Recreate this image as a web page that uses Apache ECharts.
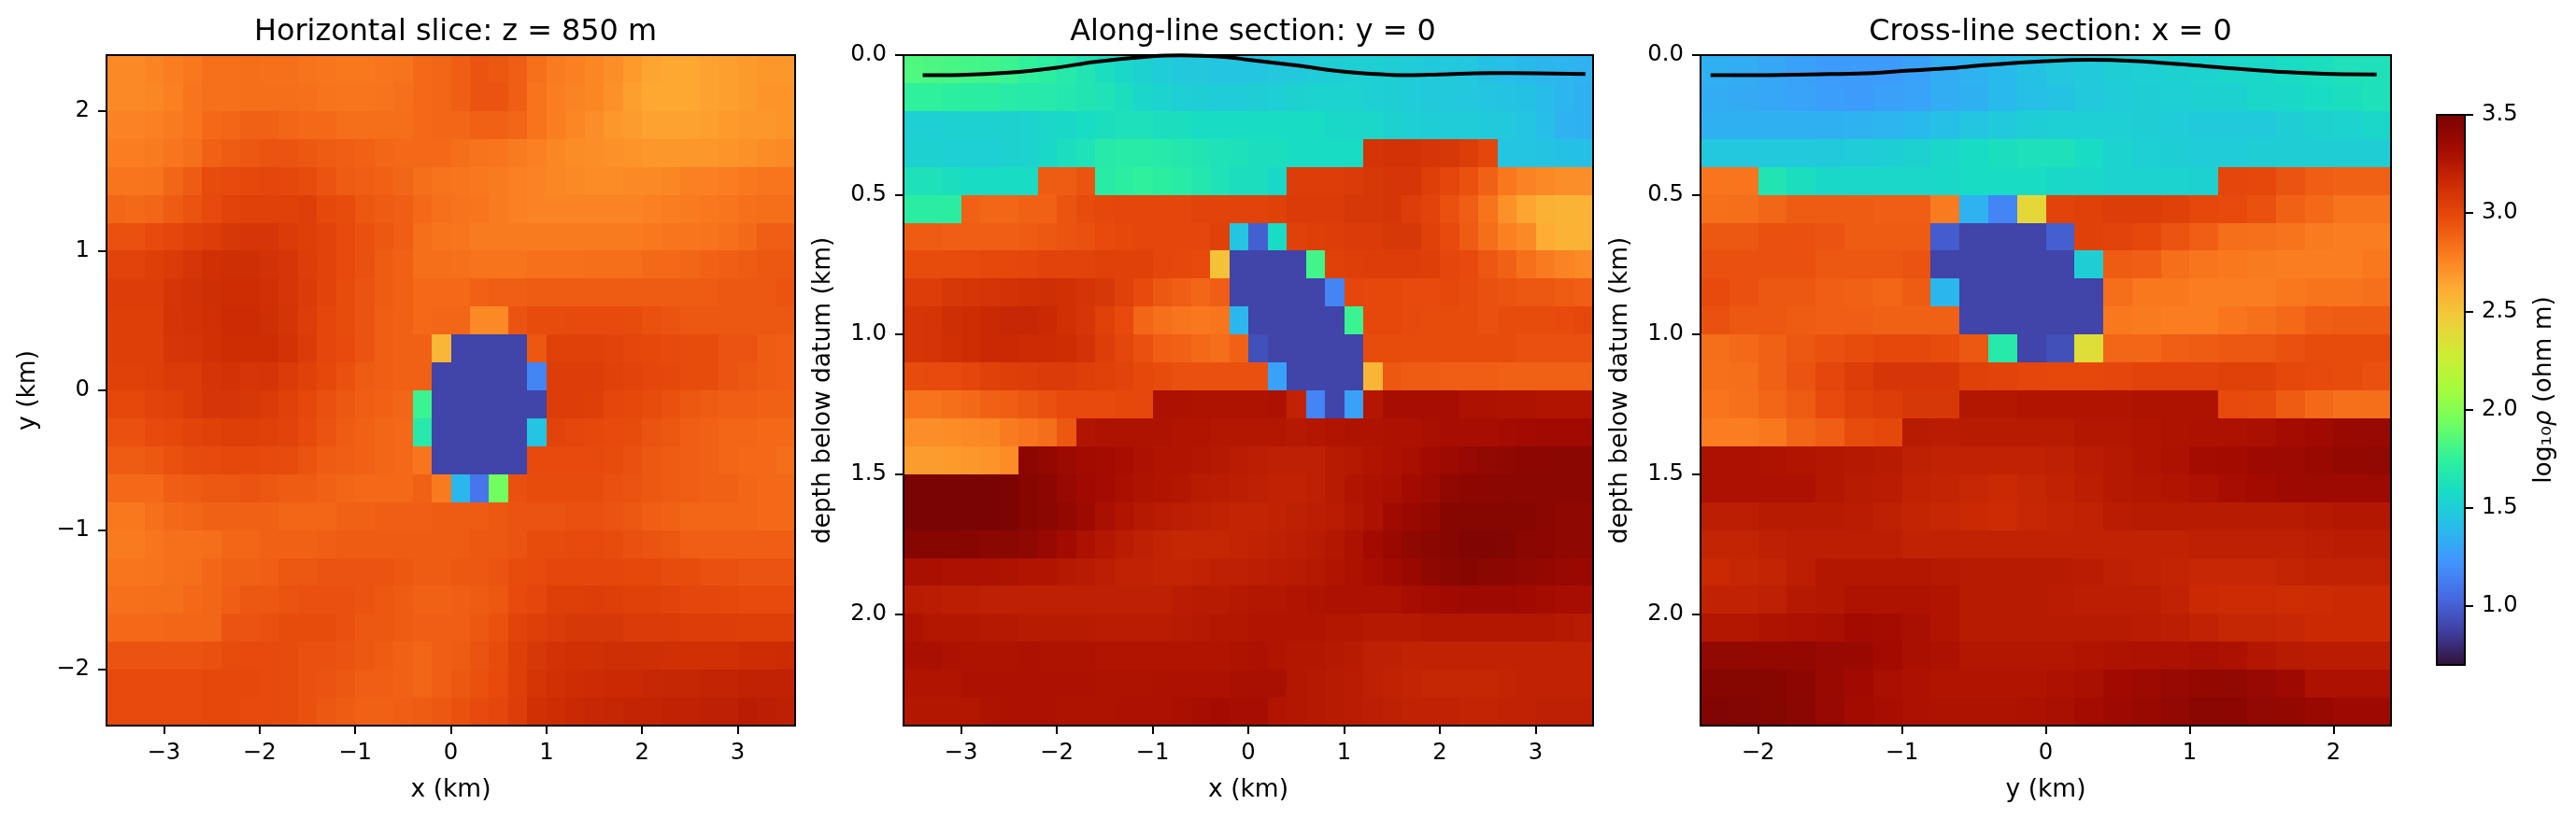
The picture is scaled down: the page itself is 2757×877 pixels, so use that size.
<!DOCTYPE html>
<html><head><meta charset="utf-8">
<script src="https://cdn.jsdelivr.net/npm/echarts@6/dist/echarts.min.js"></script>
<style>html,body{margin:0;padding:0;background:#fff}#c{width:2757px;height:877px}</style>
</head><body><div id="c"></div>
<script>
const titles = ['Horizontal slice: z = 850 m','Along-line section: y = 0','Cross-line section: x = 0'];
const xTicks = [-3,-2,-1,0,1,2,3];
const yTicks = [-2,-1,0,1,2];
const depthTicks = [0,0.5,1,1.5,2];
const cbTicks = [1,1.5,2,2.5,3,3.5];
const X_START = -3.6, Y_START = -2.4, DX = 0.2, DZ = 0.1;
// log10 resistivity, top row first
const sliceRows = [
[2.74,2.74,2.76,2.78,2.80,2.83,2.83,2.84,2.83,2.83,2.82,2.81,2.80,2.80,2.81,2.82,2.86,2.87,2.90,2.94,2.93,2.90,2.83,2.79,2.77,2.75,2.72,2.68,2.64,2.63,2.63,2.65,2.66,2.68,2.69,2.69],
[2.74,2.74,2.75,2.77,2.81,2.83,2.83,2.84,2.84,2.84,2.83,2.82,2.81,2.81,2.82,2.83,2.86,2.87,2.90,2.94,2.94,2.90,2.82,2.78,2.76,2.75,2.71,2.66,2.63,2.63,2.63,2.65,2.66,2.68,2.70,2.70],
[2.76,2.76,2.77,2.79,2.81,2.86,2.87,2.89,2.89,2.87,2.86,2.86,2.84,2.84,2.84,2.84,2.86,2.87,2.87,2.89,2.89,2.87,2.82,2.78,2.75,2.72,2.69,2.67,2.65,2.65,2.65,2.66,2.68,2.69,2.69,2.70],
[2.78,2.78,2.79,2.81,2.83,2.89,2.91,2.93,2.94,2.94,2.93,2.91,2.90,2.89,2.87,2.86,2.86,2.86,2.84,2.82,2.81,2.79,2.77,2.75,2.73,2.72,2.71,2.70,2.69,2.69,2.69,2.69,2.70,2.71,2.73,2.74],
[2.81,2.81,2.82,2.87,2.91,2.97,2.98,2.99,3.00,2.99,2.97,2.94,2.91,2.90,2.89,2.87,2.84,2.82,2.81,2.80,2.79,2.77,2.76,2.75,2.74,2.73,2.73,2.74,2.74,2.75,2.77,2.77,2.78,2.80,2.81,2.81],
[2.87,2.86,2.87,2.91,2.94,2.98,3.02,3.03,3.03,3.03,3.04,2.99,2.97,2.93,2.91,2.90,2.86,2.83,2.82,2.81,2.79,2.77,2.76,2.76,2.76,2.76,2.76,2.76,2.77,2.78,2.79,2.80,2.81,2.83,2.84,2.84],
[2.95,2.95,2.98,3.00,3.03,3.05,3.08,3.09,3.09,3.06,3.04,3.02,2.98,2.95,2.93,2.90,2.84,2.82,2.81,2.79,2.79,2.79,2.79,2.79,2.79,2.79,2.79,2.79,2.80,2.81,2.81,2.82,2.83,2.86,2.90,2.90],
[3.02,3.02,3.04,3.06,3.09,3.12,3.13,3.13,3.11,3.09,3.05,3.02,2.98,2.95,2.91,2.89,2.84,2.84,2.83,2.82,2.82,2.82,2.83,2.83,2.83,2.84,2.84,2.84,2.86,2.86,2.87,2.89,2.90,2.91,2.93,2.93],
[3.05,3.05,3.05,3.09,3.11,3.13,3.14,3.14,3.12,3.09,3.06,3.02,2.97,2.94,2.91,2.89,2.86,2.86,2.86,2.89,2.90,2.90,2.91,2.91,2.91,2.91,2.91,2.91,2.91,2.91,2.91,2.91,2.93,2.93,2.93,2.94],
[3.04,3.04,3.04,3.10,3.11,3.12,3.15,3.15,3.13,3.10,3.05,3.00,2.97,2.94,2.90,2.89,2.86,2.87,2.87,2.74,2.74,2.94,2.97,2.97,2.98,2.98,2.98,2.97,2.95,2.94,2.93,2.93,2.93,2.93,2.93,2.93],
[3.04,3.04,3.04,3.09,3.10,3.12,3.14,3.14,3.14,3.11,3.06,3.00,2.98,2.94,2.90,2.89,2.89,2.56,0.89,0.89,0.89,0.89,2.93,3.03,3.03,3.03,3.02,3.00,2.99,2.98,2.97,2.97,2.94,2.94,2.91,2.90],
[3.03,3.03,3.04,3.06,3.06,3.10,3.11,3.09,3.10,3.06,3.03,2.99,2.95,2.91,2.90,2.89,2.89,0.89,0.89,0.89,0.89,0.89,1.16,3.05,3.05,3.05,3.03,3.02,3.00,2.99,2.97,2.97,2.94,2.93,2.91,2.90],
[2.99,2.99,3.02,3.03,3.06,3.09,3.09,3.08,3.06,3.03,2.99,2.95,2.93,2.90,2.89,2.87,1.78,0.89,0.89,0.89,0.89,0.89,0.89,3.05,3.05,3.04,3.00,2.99,2.97,2.95,2.93,2.91,2.90,2.90,2.89,2.89],
[2.95,2.95,2.98,2.99,3.02,3.03,3.04,3.04,3.03,3.02,2.98,2.94,2.91,2.89,2.87,2.86,1.69,0.89,0.89,0.89,0.89,0.89,1.45,3.02,3.00,2.99,2.98,2.97,2.94,2.93,2.90,2.89,2.87,2.87,2.86,2.86],
[2.91,2.91,2.93,2.95,2.97,2.98,2.99,2.99,2.98,2.97,2.94,2.91,2.90,2.89,2.87,2.86,2.81,0.89,0.89,0.89,0.89,0.89,2.98,2.98,2.98,2.98,2.97,2.95,2.93,2.91,2.90,2.89,2.87,2.86,2.86,2.84],
[2.86,2.86,2.86,2.90,2.91,2.93,2.93,2.94,2.93,2.91,2.91,2.89,2.87,2.86,2.86,2.86,2.89,2.79,1.38,1.10,1.94,2.95,2.97,2.97,2.97,2.97,2.95,2.94,2.93,2.91,2.90,2.89,2.89,2.87,2.86,2.86],
[2.80,2.80,2.83,2.86,2.87,2.89,2.89,2.89,2.89,2.87,2.87,2.87,2.89,2.89,2.90,2.90,2.90,2.91,2.91,2.91,2.93,2.94,2.94,2.94,2.95,2.95,2.94,2.93,2.90,2.89,2.87,2.87,2.87,2.87,2.86,2.86],
[2.79,2.79,2.81,2.83,2.83,2.84,2.87,2.87,2.89,2.89,2.89,2.90,2.91,2.91,2.91,2.91,2.91,2.91,2.91,2.93,2.93,2.94,2.97,2.97,2.98,2.98,2.97,2.95,2.94,2.93,2.90,2.90,2.90,2.90,2.90,2.90],
[2.81,2.81,2.82,2.83,2.84,2.87,2.89,2.89,2.90,2.93,2.93,2.94,2.94,2.94,2.94,2.93,2.91,2.91,2.93,2.93,2.94,2.97,2.98,3.00,3.00,3.00,3.00,2.99,2.99,2.97,2.97,2.95,2.95,2.94,2.94,2.94],
[2.83,2.83,2.84,2.84,2.86,2.87,2.90,2.93,2.93,2.94,2.95,2.95,2.95,2.94,2.93,2.91,2.89,2.89,2.90,2.91,2.93,2.98,3.00,3.04,3.04,3.05,3.04,3.03,3.03,3.02,3.00,3.00,2.99,2.98,2.98,2.98],
[2.86,2.86,2.86,2.87,2.87,2.87,2.94,2.94,2.95,2.97,2.97,2.97,2.95,2.93,2.93,2.91,2.90,2.90,2.90,2.93,2.95,3.02,3.04,3.06,3.08,3.08,3.08,3.06,3.06,3.06,3.05,3.05,3.05,3.04,3.04,3.04],
[2.94,2.94,2.94,2.94,2.94,2.95,2.97,2.98,2.98,2.97,2.95,2.95,2.94,2.93,2.91,2.89,2.87,2.90,2.91,2.94,2.97,3.04,3.08,3.11,3.12,3.12,3.13,3.13,3.13,3.12,3.12,3.12,3.12,3.14,3.14,3.15],
[2.98,2.98,2.98,2.98,2.98,2.99,2.99,2.99,2.98,2.97,2.95,2.94,2.93,2.90,2.90,2.89,2.87,2.90,2.93,2.95,2.98,3.04,3.10,3.12,3.14,3.15,3.16,3.16,3.17,3.18,3.18,3.19,3.19,3.20,3.20,3.20],
[2.98,2.98,2.98,2.98,2.98,2.99,2.99,2.98,2.98,2.97,2.95,2.93,2.91,2.89,2.89,2.90,2.91,2.93,2.95,2.98,3.00,3.05,3.12,3.14,3.16,3.17,3.18,3.19,3.19,3.20,3.20,3.21,3.21,3.23,3.22,3.21]
];
const alongRows = [
[1.84,1.83,1.82,1.81,1.80,1.78,1.75,1.73,1.69,1.65,1.60,1.55,1.52,1.49,1.47,1.46,1.45,1.45,1.45,1.46,1.47,1.49,1.50,1.51,1.51,1.50,1.49,1.48,1.47,1.46,1.43,1.41,1.39,1.38,1.37,1.36],
[1.74,1.74,1.73,1.72,1.72,1.70,1.69,1.69,1.67,1.65,1.63,1.60,1.55,1.53,1.51,1.50,1.49,1.49,1.50,1.51,1.52,1.53,1.53,1.53,1.51,1.50,1.49,1.48,1.48,1.46,1.45,1.44,1.43,1.40,1.37,1.35],
[1.51,1.51,1.52,1.52,1.52,1.52,1.53,1.55,1.56,1.58,1.60,1.62,1.62,1.60,1.60,1.58,1.58,1.58,1.58,1.58,1.58,1.58,1.56,1.55,1.55,1.52,1.51,1.50,1.49,1.49,1.48,1.47,1.45,1.41,1.36,1.35],
[1.52,1.52,1.51,1.51,1.51,1.52,1.53,1.56,1.60,1.63,1.69,1.70,1.70,1.69,1.67,1.65,1.63,1.62,1.60,1.60,1.58,1.58,1.58,1.58,3.10,3.11,3.11,3.09,3.08,3.05,3.00,1.45,1.45,1.44,1.43,1.42],
[1.62,1.62,1.60,1.58,1.58,1.58,1.58,2.91,2.91,2.94,1.70,1.73,1.74,1.73,1.70,1.67,1.63,1.60,1.60,1.56,3.05,3.05,3.05,3.06,3.08,3.09,3.09,3.04,3.00,2.95,2.89,2.80,2.76,2.74,2.72,2.72],
[1.72,1.72,1.72,2.89,2.87,2.87,2.89,2.89,2.94,2.97,2.99,3.00,3.00,3.00,3.00,3.02,3.02,3.02,3.02,3.03,3.06,3.06,3.06,3.08,3.08,3.09,3.05,3.02,2.95,2.90,2.82,2.71,2.64,2.59,2.58,2.58],
[2.91,2.91,2.90,2.90,2.90,2.90,2.91,2.93,2.94,2.95,2.98,2.99,3.00,3.00,3.00,3.00,3.03,1.45,1.00,1.58,3.03,3.04,3.05,3.06,3.06,3.08,3.08,3.03,2.98,2.91,2.84,2.77,2.74,2.61,2.58,2.58],
[2.97,2.97,2.97,2.98,2.99,2.99,3.00,3.02,3.02,3.02,3.03,3.03,3.03,3.00,2.99,2.98,2.51,0.89,0.89,0.89,0.89,1.80,3.03,3.04,3.05,3.05,3.05,3.04,3.00,2.98,2.93,2.89,2.83,2.79,2.76,2.74],
[3.05,3.05,3.08,3.09,3.10,3.11,3.12,3.13,3.12,3.10,3.08,3.03,2.98,2.93,2.90,2.87,2.90,0.89,0.89,0.89,0.89,0.89,1.16,3.00,2.99,2.99,2.98,2.98,2.99,2.97,2.95,2.94,2.93,2.93,2.91,2.90],
[3.09,3.10,3.13,3.14,3.16,3.17,3.17,3.16,3.12,3.09,3.03,2.98,2.87,2.83,2.81,2.80,2.81,1.38,0.89,0.89,0.89,0.89,0.89,1.78,2.99,2.99,2.98,2.97,2.97,2.97,2.95,2.97,2.97,2.97,2.98,2.99],
[3.09,3.10,3.12,3.14,3.16,3.16,3.15,3.15,3.14,3.11,3.05,3.00,2.95,2.90,2.89,2.86,2.84,2.89,0.94,0.89,0.89,0.89,0.89,0.89,2.97,2.97,2.97,2.97,2.97,2.97,2.97,2.97,2.95,2.95,2.95,2.95],
[2.97,2.98,2.98,3.00,3.03,3.04,3.05,3.06,3.06,3.04,3.03,3.02,2.99,2.97,2.95,2.95,2.95,2.95,2.95,1.28,0.89,0.89,0.89,0.89,2.57,2.93,2.91,2.91,2.90,2.90,2.90,2.89,2.89,2.89,2.89,2.89],
[2.82,2.82,2.84,2.86,2.89,2.90,2.93,2.95,2.98,2.98,2.98,2.99,2.99,3.29,3.29,3.28,3.28,3.28,3.28,3.29,3.20,1.16,0.89,1.28,3.26,3.31,3.31,3.31,3.31,3.29,3.29,3.28,3.28,3.27,3.27,3.27],
[2.72,2.72,2.73,2.74,2.75,2.79,2.81,2.84,2.93,3.27,3.28,3.28,3.28,3.28,3.27,3.27,3.26,3.26,3.26,3.26,3.25,3.26,3.27,3.28,3.28,3.29,3.29,3.30,3.31,3.31,3.31,3.32,3.33,3.34,3.34,3.34],
[2.67,2.67,2.68,2.69,2.70,2.73,3.42,3.39,3.36,3.33,3.32,3.31,3.29,3.27,3.27,3.26,3.25,3.23,3.22,3.21,3.21,3.21,3.24,3.25,3.27,3.29,3.30,3.33,3.36,3.38,3.40,3.41,3.42,3.42,3.43,3.43],
[3.50,3.50,3.50,3.50,3.50,3.49,3.45,3.42,3.38,3.34,3.32,3.30,3.28,3.27,3.26,3.24,3.23,3.22,3.21,3.20,3.20,3.21,3.24,3.27,3.29,3.30,3.33,3.36,3.41,3.42,3.42,3.43,3.43,3.43,3.43,3.43],
[3.50,3.50,3.50,3.50,3.50,3.49,3.45,3.43,3.39,3.36,3.30,3.27,3.25,3.23,3.22,3.21,3.20,3.19,3.19,3.20,3.21,3.22,3.23,3.26,3.29,3.34,3.37,3.39,3.44,3.45,3.45,3.45,3.44,3.43,3.41,3.41],
[3.45,3.45,3.45,3.44,3.43,3.43,3.41,3.38,3.33,3.29,3.26,3.23,3.21,3.19,3.18,3.18,3.18,3.19,3.20,3.21,3.22,3.24,3.26,3.29,3.33,3.37,3.41,3.43,3.45,3.47,3.47,3.46,3.43,3.42,3.41,3.41],
[3.30,3.30,3.29,3.29,3.29,3.28,3.27,3.27,3.25,3.24,3.22,3.20,3.20,3.19,3.19,3.20,3.21,3.21,3.22,3.23,3.24,3.25,3.27,3.29,3.31,3.34,3.37,3.41,3.43,3.44,3.43,3.42,3.41,3.39,3.38,3.37],
[3.24,3.23,3.22,3.22,3.21,3.21,3.21,3.21,3.21,3.21,3.21,3.21,3.21,3.21,3.23,3.24,3.24,3.25,3.26,3.26,3.27,3.28,3.29,3.29,3.29,3.29,3.31,3.32,3.34,3.35,3.35,3.35,3.34,3.32,3.31,3.31],
[3.28,3.26,3.26,3.26,3.25,3.25,3.24,3.24,3.24,3.24,3.23,3.23,3.23,3.23,3.24,3.25,3.26,3.26,3.27,3.27,3.27,3.27,3.26,3.26,3.25,3.25,3.25,3.26,3.26,3.26,3.26,3.26,3.26,3.26,3.25,3.24],
[3.30,3.30,3.29,3.28,3.28,3.28,3.29,3.28,3.28,3.28,3.27,3.27,3.27,3.27,3.27,3.27,3.27,3.28,3.29,3.27,3.26,3.26,3.25,3.24,3.21,3.21,3.20,3.20,3.20,3.20,3.20,3.20,3.20,3.20,3.20,3.20],
[3.27,3.27,3.27,3.29,3.29,3.29,3.29,3.29,3.29,3.29,3.28,3.28,3.28,3.29,3.29,3.29,3.29,3.30,3.30,3.30,3.26,3.25,3.24,3.23,3.21,3.20,3.19,3.18,3.18,3.18,3.18,3.19,3.20,3.20,3.20,3.20],
[3.26,3.26,3.26,3.26,3.28,3.29,3.29,3.29,3.28,3.28,3.28,3.29,3.29,3.29,3.30,3.31,3.32,3.31,3.31,3.27,3.26,3.25,3.24,3.23,3.22,3.21,3.20,3.20,3.20,3.19,3.19,3.20,3.20,3.21,3.21,3.21]
];
const crossRows = [
[1.35,1.33,1.31,1.28,1.26,1.26,1.26,1.28,1.33,1.36,1.39,1.43,1.46,1.48,1.50,1.51,1.52,1.53,1.55,1.56,1.58,1.60,1.62,1.62],
[1.33,1.32,1.31,1.29,1.27,1.26,1.28,1.29,1.33,1.35,1.39,1.42,1.44,1.47,1.49,1.50,1.51,1.52,1.52,1.55,1.56,1.58,1.60,1.62],
[1.35,1.35,1.35,1.35,1.35,1.36,1.37,1.39,1.42,1.45,1.48,1.50,1.51,1.51,1.51,1.50,1.49,1.48,1.48,1.48,1.50,1.52,1.53,1.55],
[1.46,1.46,1.47,1.47,1.48,1.49,1.50,1.52,1.55,1.58,1.60,1.62,1.62,1.58,1.53,1.51,1.50,1.49,1.49,1.50,1.50,1.50,1.50,1.50],
[2.81,2.81,1.65,1.60,1.56,1.55,1.55,1.55,1.56,1.58,1.58,1.58,1.56,1.55,1.53,1.53,1.53,1.52,3.00,2.99,2.94,2.90,2.89,2.89],
[2.83,2.84,2.87,2.91,2.91,2.91,2.90,2.90,2.79,1.36,1.16,2.40,3.02,3.03,3.05,3.05,3.03,2.99,2.98,2.95,2.89,2.86,2.82,2.82],
[2.93,2.93,2.95,2.95,2.94,2.91,2.91,2.91,0.99,0.89,0.89,0.89,1.00,3.03,3.02,2.99,2.94,2.90,2.84,2.83,2.82,2.79,2.78,2.78],
[2.95,2.95,2.95,2.95,2.93,2.93,2.93,2.94,0.89,0.89,0.89,0.89,0.89,1.50,2.91,2.90,2.84,2.81,2.80,2.79,2.78,2.78,2.78,2.80],
[2.98,2.95,2.93,2.93,2.90,2.89,2.87,2.91,1.38,0.89,0.89,0.89,0.89,0.89,2.84,2.80,2.80,2.78,2.78,2.78,2.80,2.82,2.82,2.83],
[2.95,2.93,2.93,2.91,2.90,2.90,2.89,2.89,2.89,0.89,0.89,0.89,0.89,0.89,2.80,2.79,2.78,2.78,2.81,2.83,2.86,2.90,2.91,2.91],
[2.84,2.86,2.89,2.93,2.95,2.97,2.99,2.99,2.97,2.93,1.69,0.89,0.94,2.36,2.87,2.87,2.90,2.91,2.93,2.93,2.95,2.97,2.97,2.97],
[2.83,2.84,2.89,2.94,3.00,3.05,3.09,3.09,3.09,3.03,3.02,3.00,2.99,2.99,3.00,3.02,3.02,3.02,3.03,3.03,2.99,2.98,2.97,2.95],
[2.81,2.83,2.87,2.91,2.98,3.03,3.05,3.08,3.08,3.26,3.26,3.27,3.27,3.27,3.27,3.28,3.28,3.28,2.98,2.97,2.91,2.86,2.83,2.84],
[2.78,2.78,2.80,2.87,2.90,2.97,2.99,3.24,3.23,3.24,3.24,3.24,3.24,3.26,3.26,3.27,3.28,3.29,3.29,3.30,3.32,3.34,3.37,3.38],
[3.29,3.29,3.28,3.27,3.26,3.25,3.24,3.21,3.20,3.20,3.20,3.20,3.21,3.23,3.25,3.27,3.29,3.32,3.33,3.35,3.36,3.37,3.39,3.40],
[3.29,3.29,3.29,3.29,3.26,3.24,3.23,3.20,3.19,3.17,3.16,3.18,3.20,3.22,3.25,3.26,3.27,3.29,3.31,3.33,3.35,3.36,3.36,3.36],
[3.22,3.22,3.24,3.24,3.24,3.23,3.21,3.19,3.17,3.16,3.15,3.17,3.19,3.20,3.23,3.24,3.24,3.24,3.24,3.24,3.24,3.25,3.26,3.26],
[3.19,3.19,3.21,3.22,3.22,3.22,3.22,3.20,3.20,3.20,3.20,3.20,3.20,3.20,3.20,3.20,3.20,3.21,3.21,3.21,3.21,3.22,3.23,3.23],
[3.16,3.18,3.19,3.22,3.26,3.26,3.26,3.26,3.25,3.24,3.24,3.24,3.24,3.23,3.21,3.20,3.19,3.17,3.17,3.17,3.19,3.20,3.20,3.20],
[3.20,3.20,3.21,3.25,3.26,3.28,3.28,3.28,3.27,3.24,3.24,3.24,3.23,3.22,3.22,3.22,3.20,3.16,3.15,3.15,3.14,3.15,3.16,3.16],
[3.26,3.26,3.28,3.29,3.30,3.33,3.32,3.30,3.27,3.24,3.24,3.24,3.24,3.24,3.24,3.23,3.22,3.20,3.18,3.18,3.17,3.16,3.16,3.16],
[3.40,3.40,3.39,3.39,3.38,3.37,3.33,3.30,3.29,3.26,3.26,3.26,3.26,3.27,3.28,3.29,3.29,3.30,3.29,3.26,3.24,3.23,3.23,3.23],
[3.45,3.45,3.45,3.42,3.37,3.34,3.30,3.29,3.27,3.27,3.27,3.27,3.29,3.30,3.34,3.36,3.38,3.39,3.40,3.38,3.35,3.29,3.29,3.29],
[3.47,3.46,3.45,3.43,3.38,3.33,3.31,3.29,3.28,3.28,3.28,3.29,3.30,3.32,3.35,3.37,3.40,3.43,3.42,3.40,3.39,3.37,3.35,3.35]
];
const alongTopoX = [-3.4,-3,-2.5,-2,-1.6,-1,-0.7,-0.2,0,0.5,1,1.45,1.67,2,2.53,3,3.52];
const alongTopoZ = [0.072,0.071,0.063,0.045,0.024,0.004,0.001,0.008,0.017,0.037,0.059,0.07,0.072,0.069,0.064,0.065,0.068];
const crossTopoY = [-2.33,-2,-1.5,-1.2,-1,-0.7,-0.4,0,0.3,0.6,1,1.3,1.6,2,2.3];
const crossTopoZ = [0.072,0.072,0.068,0.064,0.057,0.048,0.035,0.022,0.017,0.021,0.035,0.048,0.059,0.068,0.069];

const FONT = '"DejaVu Sans"';
const TICK_FS = 24.3, LABEL_FS = 26.5, TITLE_FS = 31.9;
const ramp = ['rgb(48,18,59)','rgb(64,64,162)','rgb(70,107,227)','rgb(66,148,255)','rgb(40,188,235)','rgb(24,219,197)','rgb(47,241,155)','rgb(109,254,98)','rgb(164,252,60)','rgb(205,236,52)','rgb(238,207,58)','rgb(254,169,51)','rgb(249,120,30)','rgb(232,75,12)','rgb(204,43,4)','rgb(164,11,1)','rgb(122,4,3)'];

const cells=(rows,x0,dx,yAt)=>{
  const out=[];
  rows.forEach((row,r)=>{
    row.forEach((v,c)=>out.push([x0+dx*(c+0.5),yAt(r),v]));
  });
  return out;
};
const render=(hx,hy)=>(params,api)=>{
  const x=api.value(0),y=api.value(1);
  const a=api.coord([x-hx,y-hy]),b=api.coord([x+hx,y+hy]);
  const l=Math.round(Math.min(a[0],b[0])),r=Math.round(Math.max(a[0],b[0]));
  const t=Math.round(Math.min(a[1],b[1])),bt=Math.round(Math.max(a[1],b[1]));
  return {type:'rect',shape:{x:l,y:t,width:r-l,height:bt-t},style:{fill:api.visual('color')}};
};
const lineStyleBlack={color:'#000',width:2};
const fmtInt=v=>String(v).replace('-','\u2212');
const fmtDepth=v=>v.toFixed(1);
const TICK_LEN=9, LABEL_MARGIN=18;
function xAx(i,min,max,ticks,name){
  return {gridIndex:i,type:'value',min,max,z:10,position:'bottom',
    axisLine:{show:true,onZero:false,lineStyle:lineStyleBlack},
    axisTick:{show:true,customValues:ticks,length:TICK_LEN,lineStyle:lineStyleBlack},
    axisLabel:{show:true,customValues:ticks,formatter:fmtInt,fontFamily:FONT,fontSize:TICK_FS,color:'#000',margin:LABEL_MARGIN},
    splitLine:{show:false},name,nameLocation:'middle',nameGap:56,nameTextStyle:{fontFamily:FONT,fontSize:LABEL_FS,color:'#000'}};
}
function xTop(i,min,max){
  return {gridIndex:i,type:'value',min,max,z:10,position:'top',
    axisLine:{show:true,onZero:false,lineStyle:lineStyleBlack},axisTick:{show:false},axisLabel:{show:false},splitLine:{show:false}};
}
function yAx(i,min,max,ticks,name,inverse,fmt,gap){
  return {gridIndex:i,type:'value',min,max,inverse,z:10,position:'left',
    axisLine:{show:true,onZero:false,lineStyle:lineStyleBlack},
    axisTick:{show:true,customValues:ticks,length:TICK_LEN,lineStyle:lineStyleBlack},
    axisLabel:{show:true,customValues:ticks,formatter:fmt,fontFamily:FONT,fontSize:TICK_FS,color:'#000',margin:LABEL_MARGIN},
    splitLine:{show:false},name,nameLocation:'middle',nameGap:gap,nameRotate:90,nameTextStyle:{fontFamily:FONT,fontSize:LABEL_FS,color:'#000'}};
}
function yRight(i,min,max,inverse){
  return {gridIndex:i,type:'value',min,max,inverse,z:10,position:'right',
    axisLine:{show:true,onZero:false,lineStyle:lineStyleBlack},axisTick:{show:false},axisLabel:{show:false},splitLine:{show:false}};
}
const grids=[
  {left:114,top:59,width:737,height:718},
  {left:967,top:59,width:738,height:718},
  {left:1820,top:59,width:739,height:718},
  {left:2608,top:123,width:30,height:589}
];
const sliceData=cells(sliceRows,X_START,DX,r=>-Y_START-DX*(r+0.5));
const alongData=cells(alongRows,X_START,DX,r=>DZ*(r+0.5));
const crossData=cells(crossRows,Y_START,DX,r=>DZ*(r+0.5));
const heat=(i,data,hx,hy)=>({type:'custom',xAxisIndex:i*2,yAxisIndex:i*2,data,renderItem:render(hx,hy),
  encode:{x:0,y:1},dimensions:['x','y','v'],animation:false,silent:true,progressive:0,clip:true,z:2});
const option={
  animation:false,backgroundColor:'#fff',
  title:titles.map((t,i)=>({text:t,left:grids[i].left+grids[i].width/2,top:14,textAlign:'center',
    textStyle:{fontFamily:FONT,fontSize:TITLE_FS,fontWeight:'normal',color:'#000'}})),
  grid:grids.map(g=>Object.assign({containLabel:false,show:false},g)),
  visualMap:{type:'continuous',min:0.7,max:3.5,dimension:2,seriesIndex:[0,1,2],show:true,calculable:false,hoverLink:false,
    left:2608,top:123,itemWidth:30,itemHeight:589,padding:0,text:null,orient:'vertical',inRange:{color:ramp},
    textStyle:{fontSize:1,color:'transparent'},showLabel:false},
  xAxis:[
    xAx(0,-3.6,3.6,xTicks,'x (km)'),xTop(0,-3.6,3.6),
    xAx(1,-3.6,3.6,xTicks,'x (km)'),xTop(1,-3.6,3.6),
    xAx(2,-2.4,2.4,yTicks,'y (km)'),xTop(2,-2.4,2.4),
    {gridIndex:3,type:'value',min:0,max:1,z:10,position:'bottom',axisLine:{show:true,onZero:false,lineStyle:lineStyleBlack},axisTick:{show:false},axisLabel:{show:false},splitLine:{show:false}},
    xTop(3,0,1)
  ],
  yAxis:[
    yAx(0,-2.4,2.4,yTicks,'y (km)',false,fmtInt,70),yRight(0,-2.4,2.4,false),
    yAx(1,0,2.4,depthTicks,'depth below datum (km)',true,fmtDepth,72),yRight(1,0,2.4,true),
    yAx(2,0,2.4,depthTicks,'depth below datum (km)',true,fmtDepth,72),yRight(2,0,2.4,true),
    {gridIndex:3,type:'value',min:0.7,max:3.5,z:10,position:'right',
      axisLine:{show:true,onZero:false,lineStyle:lineStyleBlack},
      axisTick:{show:true,customValues:cbTicks,length:TICK_LEN,lineStyle:lineStyleBlack},
      axisLabel:{show:true,customValues:cbTicks,formatter:fmtDepth,fontFamily:FONT,fontSize:TICK_FS,color:'#000',margin:LABEL_MARGIN},
      splitLine:{show:false},name:'{a|log\u2081\u2080}{i|\u03C1}{a| (ohm m)}',nameLocation:'middle',nameGap:72,nameRotate:90,
      nameTextStyle:{rich:{a:{fontFamily:FONT,fontSize:LABEL_FS,color:'#000'},i:{fontFamily:FONT,fontSize:LABEL_FS,fontStyle:'italic',color:'#000'}}}},
    {gridIndex:3,type:'value',min:0.7,max:3.5,z:10,position:'left',axisLine:{show:true,onZero:false,lineStyle:lineStyleBlack},axisTick:{show:false},axisLabel:{show:false},splitLine:{show:false}}
  ],
  series:[
    heat(0,sliceData,DX/2,DX/2),
    heat(1,alongData,DX/2,DZ/2),
    heat(2,crossData,DX/2,DZ/2),
    {type:'line',xAxisIndex:2,yAxisIndex:2,data:alongTopoX.map((x,i)=>[x,alongTopoZ[i]]),smooth:0.4,showSymbol:false,silent:true,animation:false,z:5,lineStyle:{color:'#000',width:4}},
    {type:'line',xAxisIndex:4,yAxisIndex:4,data:crossTopoY.map((x,i)=>[x,crossTopoZ[i]]),smooth:0.4,showSymbol:false,silent:true,animation:false,z:5,lineStyle:{color:'#000',width:4}}
  ]
};
[sliceRows,alongRows].forEach((R,k)=>R.forEach((r,i)=>{if(r.length!==36)throw new Error('row '+k+':'+i+' '+r.length)}));
crossRows.forEach((r,i)=>{if(r.length!==24)throw new Error('cross '+i+' '+r.length)});
const chart=echarts.init(document.getElementById('c'),null,{renderer:'canvas',width:2757,height:877,devicePixelRatio:1});
chart.setOption(option);
</script></body></html>
